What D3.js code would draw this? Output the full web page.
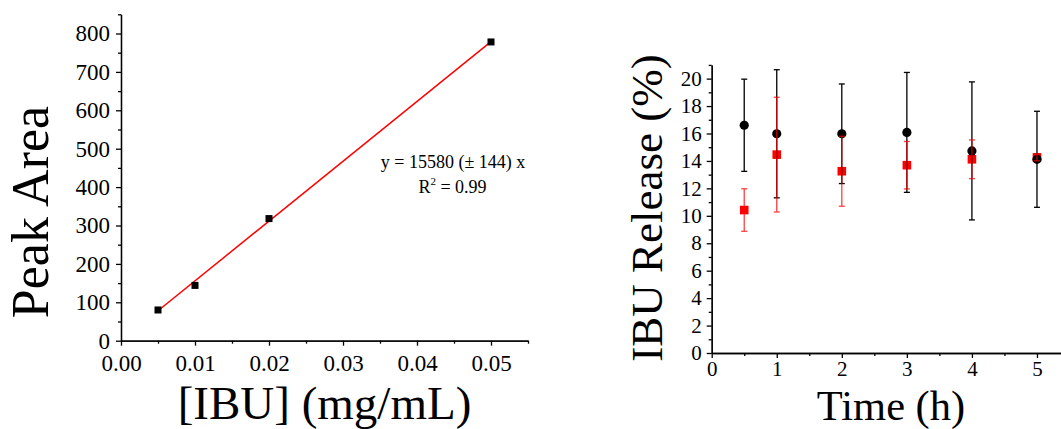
<!DOCTYPE html>
<html>
  <head>
    <meta charset="utf-8" />
    <script src="https://d3js.org/d3.v7.min.js"></script>
    <style>
        body { margin: 0; background: #fff; }
        svg text { font-family: "Liberation Serif", "Times New Roman", serif; fill: #000; }
        .axis path, .axis line { stroke: #000; stroke-width: 1.3; }
    </style>
  </head>
  <body>

    <svg id="chart" width="1061" height="429"></svg>

        <script>

            // calibration curve
            var concs = [0.005, 0.01, 0.02, 0.05];
            var areas = [80, 144, 318, 778];
            var slope = 15580;
            var concTicks = [0, 0.01, 0.02, 0.03, 0.04, 0.05];
            var areaTicks = [0, 100, 200, 300, 400, 500, 600, 700, 800];

            // release over time
            var times = [0.5, 1, 2, 3, 4, 5];
            var blackMean = [16.6, 15.98, 15.98, 16.08, 14.73, 14.12];
            var blackErr = [3.36, 4.67, 3.63, 4.37, 5.03, 3.5];
            var redMean = [10.42, 14.46, 13.25, 13.69, 14.12, 14.26];
            var redErr = [1.55, 4.18, 2.55, 1.73, 1.41, 0.25];
            var timeTicks = [0, 1, 2, 3, 4, 5];
            var releaseTicks = [0, 2, 4, 6, 8, 10, 12, 14, 16, 18, 20];

            var svg = d3.select("#chart");

            function minors(major, step) {
                return major.map(function(d){ return d + step; });
            }

            // ---------- left chart ----------
            var x1 = d3.scaleLinear().domain([0, 0.055]).range([121, 528]);
            var y1 = d3.scaleLinear().domain([0, 850]).range([340.7, 14.3]);

            var g1 = svg.append("g");

            g1.append("g").attr("class", "axis")
                .attr("transform", "translate(0," + y1(0) + ")")
                .call(d3.axisBottom(x1).tickValues(minors(concTicks, 0.005)).tickSize(3).tickFormat("").tickSizeOuter(0));
            g1.append("g").attr("class", "axis")
                .attr("transform", "translate(0," + y1(0) + ")")
                .call(d3.axisBottom(x1).tickValues(concTicks).tickSize(5).tickSizeOuter(0)
                    .tickFormat(d3.format(".2f")))
                .selectAll("text")
                    .attr("y", 13.8)
                    .style("font-size", "23px");

            g1.append("g").attr("class", "axis")
                .attr("transform", "translate(" + x1(0) + ",0)")
                .call(d3.axisLeft(y1).tickValues(minors(areaTicks, 50)).tickSize(3).tickFormat("").tickSizeOuter(0));
            g1.append("g").attr("class", "axis")
                .attr("transform", "translate(" + x1(0) + ",0)")
                .call(d3.axisLeft(y1).tickValues(areaTicks).tickSize(5).tickSizeOuter(0).tickPadding(6))
                .selectAll("text")
                    .style("font-size", "23px");

            // fit line
            g1.append("line")
                .attr("x1", x1(concs[0])).attr("y1", y1(slope * concs[0]))
                .attr("x2", x1(concs[concs.length - 1])).attr("y2", y1(slope * concs[concs.length - 1]))
                .attr("stroke", "red")
                .attr("stroke-width", 1.5);

            g1.selectAll("rect.pt")
                .data(concs)
                .enter().append("rect")
                .attr("class", "pt")
                .attr("x", function(d){ return x1(d) - 3.5; })
                .attr("y", function(d, i){ return y1(areas[i]) - 3.5; })
                .attr("width", 7)
                .attr("height", 7)
                .attr("fill", "#000");

            g1.append("text")
                .attr("x", 453).attr("y", 167.5)
                .attr("text-anchor", "middle")
                .style("font-size", "18px")
                .text("y = 15580 (\u00b1 144) x");
            var r2 = g1.append("text")
                .attr("x", 452.5).attr("y", 193.3)
                .attr("text-anchor", "middle")
                .style("font-size", "18px");
            r2.append("tspan").text("R");
            r2.append("tspan").attr("dy", -8).style("font-size", "11px").text("2");
            r2.append("tspan").attr("dy", 8).text(" = 0.99");

            g1.append("text")
                .attr("transform", "translate(48,212) rotate(-90)")
                .attr("text-anchor", "middle")
                .style("font-size", "52px")
                .text("Peak Area");

            g1.append("text")
                .attr("x", 324.5).attr("y", 418.6)
                .attr("text-anchor", "middle")
                .style("font-size", "47px")
                .text("[IBU] (mg/mL)");

            // ---------- right chart ----------
            var x2 = d3.scaleLinear().domain([0, 5.5]).range([711.7, 1069.5]);
            var y2 = d3.scaleLinear().domain([0, 21]).range([353, 64.9]);

            var g2 = svg.append("g");

            g2.append("g").attr("class", "axis")
                .attr("transform", "translate(0," + y2(0) + ")")
                .call(d3.axisBottom(x2).tickValues(minors(timeTicks, 0.5)).tickSize(3).tickFormat("").tickSizeOuter(0));
            g2.append("g").attr("class", "axis")
                .attr("transform", "translate(0," + y2(0) + ")")
                .call(d3.axisBottom(x2).tickValues(timeTicks).tickSize(5).tickSizeOuter(0).tickFormat(d3.format("d")))
                .selectAll("text")
                    .attr("y", 8.5)
                    .style("font-size", "21px");

            g2.append("g").attr("class", "axis")
                .attr("transform", "translate(" + x2(0) + ",0)")
                .call(d3.axisLeft(y2).tickValues(minors(releaseTicks, 1)).tickSize(3).tickFormat("").tickSizeOuter(0));
            g2.append("g").attr("class", "axis")
                .attr("transform", "translate(" + x2(0) + ",0)")
                .call(d3.axisLeft(y2).tickValues(releaseTicks).tickSize(5).tickSizeOuter(0).tickPadding(5))
                .selectAll("text")
                    .style("font-size", "21px");

            // red squares
            g2.selectAll("rect.red")
                .data(times)
                .enter().append("rect")
                .attr("class", "red")
                .attr("x", function(d){ return x2(d) - 4.3; })
                .attr("y", function(d, i){ return y2(redMean[i]) - 4.3; })
                .attr("width", 8.6)
                .attr("height", 8.6)
                .attr("fill", "red");

            // black circles
            g2.selectAll("circle.blk")
                .data(times)
                .enter().append("circle")
                .attr("class", "blk")
                .attr("cx", function(d){ return x2(d); })
                .attr("cy", function(d, i){ return y2(blackMean[i]); })
                .attr("r", 4.6)
                .attr("fill", "#000");

            function errorBars(cls, mean, err, color, opacity) {
                var eb = g2.selectAll("g." + cls)
                    .data(times)
                    .enter().append("g")
                    .attr("class", cls)
                    .attr("stroke", color)
                    .attr("stroke-width", 1.3)
                    .attr("opacity", opacity);
                eb.append("line")
                    .attr("x1", function(d){ return x2(d); })
                    .attr("x2", function(d){ return x2(d); })
                    .attr("y1", function(d, i){ return y2(mean[i] + err[i]); })
                    .attr("y2", function(d, i){ return y2(mean[i] - err[i]); });
                [1, -1].forEach(function(s){
                    eb.append("line")
                        .attr("x1", function(d){ return x2(d) - 3; })
                        .attr("x2", function(d){ return x2(d) + 3; })
                        .attr("y1", function(d, i){ return y2(mean[i] + s * err[i]); })
                        .attr("y2", function(d, i){ return y2(mean[i] + s * err[i]); });
                });
            }

            errorBars("blkerr", blackMean, blackErr, "#000", 1);
            errorBars("rederr", redMean, redErr, "red", 0.75);

            g2.append("text")
                .attr("transform", "translate(661.5,208) rotate(-90)")
                .attr("text-anchor", "middle")
                .style("font-size", "45px")
                .text("IBU Release (%)");

            g2.append("text")
                .attr("x", 891).attr("y", 419.6)
                .attr("text-anchor", "middle")
                .style("font-size", "42.5px")
                .text("Time (h)");

        </script>
  </body>
</html>
